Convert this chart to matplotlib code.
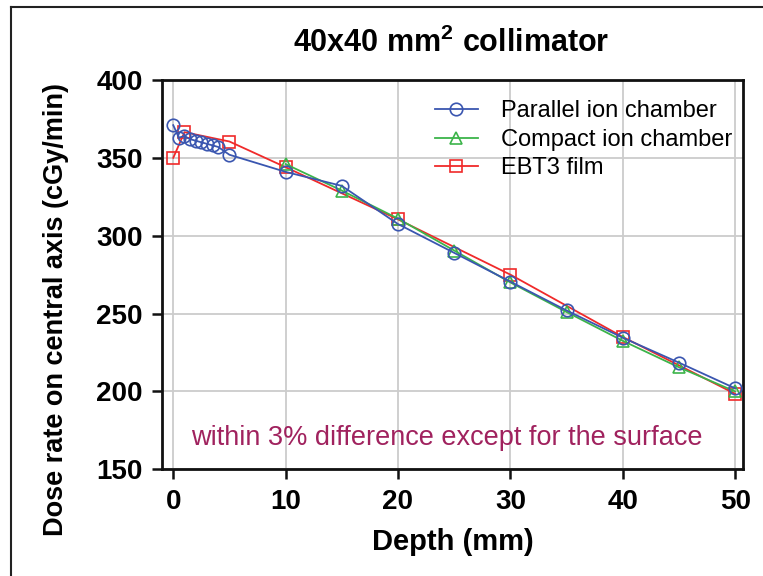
import matplotlib
matplotlib.use("Agg")
import matplotlib.pyplot as plt
from matplotlib.lines import Line2D

plt.rcParams['font.family'] = ['Liberation Sans', 'DejaVu Sans']
plt.rcParams['mathtext.default'] = 'regular'

# ---- data ----
parallel_depth = [0, 0.5, 1, 1.5, 2, 2.5, 3, 3.5, 4, 5, 10, 15, 20, 25, 30, 35, 40, 45, 50]
parallel_dose = [371, 363, 364, 362, 361, 360, 359, 358, 357, 352, 341, 332, 307.5, 289, 270.5, 252, 234.5, 218.5, 202]
compact_depth = [10, 15, 20, 25, 30, 35, 40, 45, 50]
compact_dose = [346, 329, 311, 290.5, 270, 251, 232.5, 215.5, 200]
film_depth = [0, 1, 5, 10, 20, 30, 40, 50]
film_dose = [350, 366.5, 360.5, 344, 310.5, 275, 235, 198.5]

series_labels = ["Parallel ion chamber", "Compact ion chamber", "EBT3 film"]
x_ticks = [0, 10, 20, 30, 40, 50]
y_ticks = [150, 200, 250, 300, 350, 400]

W, H = 763, 576
fig = plt.figure(figsize=(W / 100, H / 100), dpi=100)
fig.patch.set_facecolor('white')

left, right, top, bottom = 162, 743, 80, 469.3
ax = fig.add_axes([left / W, 1 - bottom / H, (right - left) / W, (bottom - top) / H])

blue = '#3a56b0'
green = '#3cb44a'
red = '#f02a2a'

common = dict(lw=1.3, ms=9, mew=1.2, fillstyle='none')
h1, = ax.plot(parallel_depth, parallel_dose, marker='o', color=blue, zorder=3.3, **common)
h2, = ax.plot(compact_depth, compact_dose, marker='^', color=green, zorder=3.2, **common)
h3, = ax.plot(film_depth, film_dose, marker='s', color=red, zorder=3.1, **common)

ax.set_xlim(-1, 50.7)
ax.set_ylim(150, 400)
ax.set_xticks(x_ticks)
ax.set_yticks(y_ticks)
ax.grid(True, color='#cccccc', lw=1.3)
ax.set_axisbelow(True)
for s in ax.spines.values():
    s.set_linewidth(2)
    s.set_color('#111111')
ax.tick_params(axis='both', direction='out', length=7, width=1.8, labelsize=20, pad=7, color='#111111')
for lab in ax.get_xticklabels() + ax.get_yticklabels():
    lab.set_fontweight('bold')

ax.set_xlabel("Depth (mm)", fontsize=21, fontweight='bold')
ax.set_ylabel("Dose rate on central axis (cGy/min)", fontsize=19.5, fontweight='bold')
ax.xaxis.set_label_coords(0.5, -0.15)
ax.yaxis.set_label_coords(-0.16, 0.41)

fig.text(451 / W, 1 - 43 / H, "40x40 mm$^2$ collimator", fontsize=22, fontweight='bold',
         ha='center', va='center')

leg = ax.legend([h1, h2, h3], series_labels, loc='upper left', bbox_to_anchor=(0.47, 0.948),
                frameon=False, fontsize=17, borderpad=0, borderaxespad=0,
                handlelength=1.8, handletextpad=1.0, labelspacing=0.28)

ax.text(24.3, 170, "within 3% difference except for the surface", color='#a0225e',
        fontsize=19.5, ha='center', va='center')

# outer frame (left and top edges visible)
fig.add_artist(Line2D([11 / W, 11 / W], [0, 1 - 7 / H], transform=fig.transFigure, color='#222222', lw=1.5))
fig.add_artist(Line2D([11 / W, 1], [1 - 7 / H, 1 - 7 / H], transform=fig.transFigure, color='#222222', lw=1.5))

fig.savefig("out.png", dpi=100)
